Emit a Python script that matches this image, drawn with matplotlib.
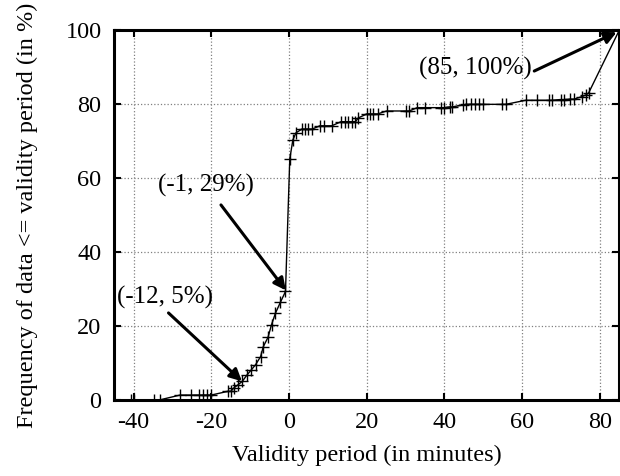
import matplotlib
matplotlib.use("Agg")
import matplotlib.pyplot as plt

plt.rcParams['font.family'] = ['Liberation Serif', 'DejaVu Serif']
plt.rcParams['axes.unicode_minus'] = False

# validity period (minutes) and cumulative frequency (%)
period = [-40.6, -39.8, -34.8, -33.2, -28.0, -25.2, -23.1, -22.0, -21.2, -20.0,
          -15.7, -15.0, -14.2, -13.2, -12.0, -10.9, -9.7, -8.6, -7.3, -6.6,
          -5.4, -4.5, -3.5, -2.2, -0.9, 0.2, 1.0, 1.8, 3.3, 4.2,
          5.0, 5.9, 8.0, 8.9, 11.0, 13.4, 14.3, 15.1, 16.1, 17.1,
          17.8, 20.0, 20.8, 21.7, 22.8, 25.1, 30.2, 30.9, 33.0, 34.9,
          39.1, 40.0, 41.3, 41.9, 44.7, 45.5, 46.8, 47.9, 49.0, 49.8,
          54.9, 55.8, 60.9, 63.9, 66.9, 67.7, 69.9, 70.7, 72.3, 73.3,
          75.4, 76.5, 77.1, 85.0]
freq = [0.0, 0.0, 0.0, 0.0, 1.3, 1.3, 1.3, 1.3, 1.3, 1.3,
        2.3, 2.3, 3.2, 4.0, 5.0, 6.6, 8.1, 9.5, 11.7, 14.4,
        16.9, 20.3, 23.4, 26.4, 29.3, 65.1, 70.3, 72.2, 73.2, 73.2,
        73.2, 73.2, 74.1, 74.1, 74.1, 75.2, 75.2, 75.2, 75.2, 75.2,
        76.2, 77.3, 77.3, 77.3, 77.3, 78.1, 78.1, 78.1, 79.0, 79.0,
        79.0, 79.0, 79.2, 79.2, 79.7, 79.9, 79.9, 79.9, 79.9, 79.9,
        79.9, 79.9, 81.0, 81.0, 81.0, 81.0, 81.2, 81.2, 81.3, 81.3,
        82.0, 82.5, 83.0, 100.0]

xticks = [-40, -20, 0, 20, 40, 60, 80]
yticks = [0, 20, 40, 60, 80, 100]

# annotation text, label centre, arrow tail, arrow head
notes = [
    ('(85, 100%)', (48.0, 89.7), (63.1, 88.9), (84.3, 99.4)),
    ('(-1, 29%)', (-21.3, 58.1), (-17.5, 52.7), (-0.8, 29.6)),
    ('(-12, 5%)', (-31.8, 27.6), (-31.0, 23.5), (-12.1, 5.0)),
]

fig = plt.figure(figsize=(6.2, 4.76), dpi=100)
ax = fig.add_axes([0.184, 0.16, 0.815, 0.777])

ax.plot(period, freq, color='black', lw=1, marker='+', ms=8, mew=1)

ax.set_xlim(-45, 85)
ax.set_ylim(0, 100)
ax.set_xticks(xticks)
ax.set_yticks(yticks)
ax.grid(True, color='#808080', linestyle=':', linewidth=0.9)
ax.tick_params(direction='in', length=5, width=1.5, top=True, right=True,
               labelsize=17.5, pad=9)
for s in ax.spines.values():
    s.set_linewidth(2.2)

ax.set_xlabel('Validity period (in minutes)', fontsize=17.5, labelpad=8)
ax.set_ylabel('Frequency of data <= validity period (in %)', fontsize=17.5,
              labelpad=20)

for txt, pos, tail, head in notes:
    ax.text(pos[0], pos[1], txt, fontsize=18, ha='center', va='center')
    ax.annotate('', xy=head, xytext=tail,
                arrowprops=dict(arrowstyle='-|>', color='black', lw=2.2,
                                mutation_scale=18, shrinkA=0, shrinkB=0))

fig.savefig('out.png', dpi=100)
